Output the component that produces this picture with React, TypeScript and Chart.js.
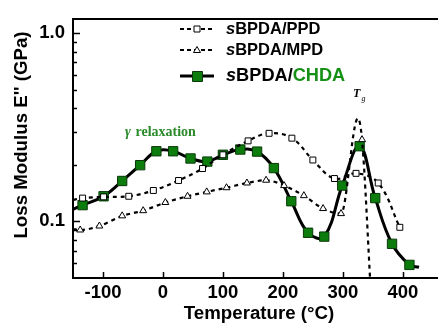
import { useEffect, useRef } from "react";
import { Chart, registerables } from "chart.js";

Chart.register(...registerables);

// ---- data (temperature °C, loss modulus GPa) ----
const tempPPD = [-150, -134, -99, -57, -16, 26, 66, 100, 142, 177, 215, 250, 286, 322, 359, 395];
const valPPD = [0.13, 0.133, 0.135, 0.136, 0.146, 0.165, 0.191, 0.226, 0.268, 0.294, 0.277, 0.212, 0.169, 0.18, 0.16, 0.093];
const curveOnlyPPD = [-150];

const tempMPD = [-150, -138, -106, -68, -33, 4, 41, 73, 106, 140, 172, 202, 235, 267, 297, 325, 332, 347];
const valMPD = [0.091, 0.09, 0.0945, 0.107, 0.114, 0.126, 0.136, 0.1435, 0.151, 0.16, 0.1655, 0.155, 0.137, 0.117, 0.11, 0.353, 0.272, 0.04];
const curveOnlyMPD = [-150, 325, 347];

const tempCHDA = [-150, -134, -99, -68, -38, -11, 17, 46, 74, 100, 129, 157, 185, 214, 242, 269, 299, 328, 354, 382, 411, 427];
const valCHDA = [0.116, 0.122, 0.136, 0.164, 0.199, 0.236, 0.236, 0.216, 0.208, 0.226, 0.241, 0.235, 0.192, 0.128, 0.087, 0.083, 0.155, 0.251, 0.133, 0.076, 0.0587, 0.057];
const curveOnlyCHDA = [-150, 427];

const xTicks = [-100, 0, 100, 200, 300, 400];
const yMajorTicks = [0.1, 1.0];
const yMinorTicks = [0.06, 0.07, 0.08, 0.09, 0.2, 0.3, 0.4, 0.5, 0.6, 0.7, 0.8, 0.9];
const yTickLabels: Record<string, string> = { "0.1": "0.1", "1": "1.0" };

const legendNames = ["BPDA/PPD", "BPDA/MPD", "BPDA/"];
const legendGreenPart = "CHDA";
const xTitle = "Temperature (°C)";
const yTitle = "Loss Modulus E'' (GPa)";
const gammaLabel = "relaxation";

const SANS = '"Liberation Sans", Arial, sans-serif';
const SERIF = '"Liberation Serif", "Times New Roman", serif';
const GREEN = "#0c7d0c";
const GREEN_TEXT = "#159015";

function toPoints(t: number[], v: number[]) {
  return t.map((x, i) => ({ x, y: v[i] }));
}

function radiusFor(temps: number[], curveOnly: number[], r: number) {
  return temps.map((t) => (curveOnly.includes(t) ? 0 : r));
}

const decorPlugin = {
  id: "decor",
  afterDraw(chart: any) {
    const { ctx, chartArea: ca, scales } = chart;
    const xs = scales.x;
    const ys = scales.y;
    const W = chart.width;
    ctx.save();
    ctx.strokeStyle = "#000";
    ctx.setLineDash([]);

    // inside tick marks
    ctx.lineWidth = 1.5;
    ctx.beginPath();
    for (const v of xTicks) {
      const px = Math.round(xs.getPixelForValue(v)) + 0.5;
      ctx.moveTo(px, ca.bottom);
      ctx.lineTo(px, ca.bottom - 6);
    }
    for (const v of yMajorTicks) {
      const py = Math.round(ys.getPixelForValue(v)) + 0.5;
      ctx.moveTo(ca.left, py);
      ctx.lineTo(ca.left + 7, py);
    }
    for (const v of yMinorTicks) {
      const py = Math.round(ys.getPixelForValue(v)) + 0.5;
      ctx.moveTo(ca.left, py);
      ctx.lineTo(ca.left + 4, py);
    }
    ctx.stroke();

    // frame: left, bottom, top
    ctx.lineWidth = 2;
    ctx.beginPath();
    ctx.moveTo(ca.left, ca.top);
    ctx.lineTo(ca.left, ca.bottom);
    ctx.moveTo(ca.left - 1, ca.bottom);
    ctx.lineTo(W, ca.bottom);
    ctx.moveTo(ca.left - 1, ca.top);
    ctx.lineTo(W, ca.top);
    ctx.stroke();

    // legend
    const lx0 = 180, lx1 = 213, mx = 197;
    const rows = [29, 50, 76];
    ctx.lineWidth = 2;
    ctx.setLineDash([4, 3]);
    ctx.beginPath();
    ctx.moveTo(lx0, rows[0]); ctx.lineTo(lx1, rows[0]);
    ctx.moveTo(lx0, rows[1]); ctx.lineTo(lx1, rows[1]);
    ctx.stroke();
    ctx.setLineDash([]);
    ctx.lineWidth = 3;
    ctx.beginPath();
    ctx.moveTo(lx0, rows[2]); ctx.lineTo(lx1 + 1, rows[2]);
    ctx.stroke();
    // markers
    ctx.lineWidth = 1;
    ctx.fillStyle = "#fff";
    ctx.beginPath();
    ctx.rect(mx - 3, rows[0] - 3, 6, 6);
    ctx.fill(); ctx.stroke();
    ctx.beginPath();
    ctx.moveTo(mx, rows[1] - 3.5);
    ctx.lineTo(mx + 3.5, rows[1] + 2.5);
    ctx.lineTo(mx - 3.5, rows[1] + 2.5);
    ctx.closePath();
    ctx.fill(); ctx.stroke();
    ctx.fillStyle = GREEN;
    ctx.strokeStyle = "#0a3a0a";
    ctx.beginPath();
    ctx.rect(mx - 4.5, rows[2] - 4.5, 10, 10);
    ctx.fill(); ctx.stroke();

    // legend text
    ctx.textBaseline = "middle";
    ctx.textAlign = "left";
    const sizes = [16.5, 16.5, 18.2];
    rows.forEach((ry, i) => {
      const sz = sizes[i];
      let tx = 226;
      ctx.fillStyle = "#000";
      ctx.font = `italic bold ${sz}px ${SANS}`;
      ctx.fillText("s", tx, ry);
      tx += ctx.measureText("s").width;
      ctx.font = `bold ${sz}px ${SANS}`;
      ctx.fillText(legendNames[i], tx, ry);
      tx += ctx.measureText(legendNames[i]).width;
      if (i === 2) {
        ctx.fillStyle = GREEN_TEXT;
        ctx.fillText(legendGreenPart, tx, ry);
      }
    });

    // gamma relaxation annotation
    ctx.textBaseline = "alphabetic";
    ctx.fillStyle = "#2a8a2a";
    ctx.font = `italic bold 14px ${SERIF}`;
    ctx.fillText("γ", 125, 136);
    ctx.font = `bold 14px ${SERIF}`;
    ctx.fillText(gammaLabel, 135.5, 136);

    // Tg annotation
    ctx.fillStyle = "#000";
    ctx.font = `italic bold 12px ${SERIF}`;
    ctx.fillText("T", 353, 97);
    ctx.font = `italic 8px ${SERIF}`;
    ctx.fillText("g", 361.5, 101);

    // axis titles
    ctx.fillStyle = "#000";
    ctx.font = `bold 18.7px ${SANS}`;
    ctx.textAlign = "center";
    ctx.textBaseline = "middle";
    ctx.fillText(xTitle, 259, 314);
    ctx.save();
    ctx.translate(22, 135);
    ctx.rotate(-Math.PI / 2);
    ctx.font = `bold 18.7px ${SANS}`;
    ctx.fillText(yTitle, 0, 0);
    ctx.restore();

    ctx.restore();
  },
};

export default function App() {
  const ref = useRef<HTMLCanvasElement | null>(null);

  useEffect(() => {
    document.body.style.margin = "0";
    const canvas = ref.current;
    if (!canvas) return;

    const lineCommon = {
      borderColor: "#000",
      pointBorderColor: "#000",
      pointBorderWidth: 1,
      showLine: true,
      fill: false,
    };

    const chart = new Chart(canvas, {
      type: "line",
      data: {
        datasets: [
          {
            ...lineCommon,
            label: "sBPDA/PPD",
            data: toPoints(tempPPD, valPPD),
            borderWidth: 2.2,
            borderDash: [4, 4],
            tension: 0.4,
            pointStyle: "rect",
            pointRadius: radiusFor(tempPPD, curveOnlyPPD, 4.2),
            pointBackgroundColor: "#fff",
          },
          {
            ...lineCommon,
            label: "sBPDA/MPD",
            data: toPoints(tempMPD, valMPD),
            borderWidth: 2.2,
            borderDash: [4, 4],
            cubicInterpolationMode: "monotone",
            pointStyle: "triangle",
            pointRadius: radiusFor(tempMPD, curveOnlyMPD, 4),
            pointBackgroundColor: "#fff",
          },
          {
            ...lineCommon,
            label: "sBPDA/CHDA",
            data: toPoints(tempCHDA, valCHDA),
            borderWidth: 3,
            tension: 0.4,
            pointStyle: "rect",
            pointRadius: radiusFor(tempCHDA, curveOnlyCHDA, 6.6),
            pointBackgroundColor: GREEN,
            pointBorderColor: "#0a3a0a",
          },
        ] as any,
      },
      options: {
        animation: false,
        responsive: false,
        maintainAspectRatio: false,
        layout: { padding: { top: 12, right: 1, left: 0, bottom: 0 } },
        plugins: {
          legend: { display: false },
          tooltip: { enabled: false },
          title: { display: false },
        },
        scales: {
          x: {
            type: "linear",
            min: -150,
            max: 450,
            grid: { display: false, drawTicks: false },
            border: { display: false },
            afterBuildTicks: (scale: any) => {
              scale.ticks = xTicks.map((v) => ({ value: v }));
            },
            afterFit: (scale: any) => {
              scale.height = 46;
            },
            ticks: {
              autoSkip: false,
              maxRotation: 0,
              padding: 4,
              color: "#000",
              font: { family: SANS, size: 18.5, weight: "bold" },
              callback: (v: any) => String(v),
            },
          },
          y: {
            type: "logarithmic",
            min: 0.05,
            max: 1.19,
            grid: { display: false, drawTicks: false },
            border: { display: false },
            afterBuildTicks: (scale: any) => {
              scale.ticks = [...yMinorTicks, ...yMajorTicks]
                .sort((a, b) => a - b)
                .map((v) => ({ value: v }));
            },
            afterFit: (scale: any) => {
              scale.width = 73;
            },
            ticks: {
              autoSkip: false,
              padding: 8,
              color: "#000",
              font: { family: SANS, size: 18.5, weight: "bold" },
              callback: (v: any) => yTickLabels[String(Number(v))] ?? "",
            },
          },
        },
      } as any,
      plugins: [decorPlugin],
    });

    return () => chart.destroy();
  }, []);

  return (
    <div style={{ width: 438, height: 324 }}>
      <canvas ref={ref} width={438} height={324} style={{ display: "block" }} />
    </div>
  );
}
